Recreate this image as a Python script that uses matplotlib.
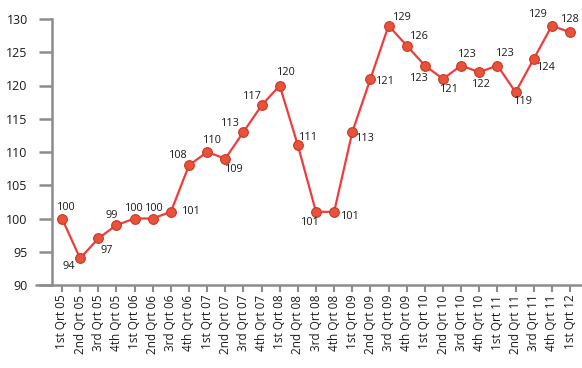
import matplotlib
matplotlib.use('Agg')
import matplotlib.pyplot as plt

# Quarterly values
quarters = ['1st Qrt 05', '2nd Qrt 05', '3rd Qrt 05', '4th Qrt 05',
            '1st Qrt 06', '2nd Qrt 06', '3rd Qrt 06', '4th Qrt 06',
            '1st Qrt 07', '2nd Qrt 07', '3rd Qrt 07', '4th Qrt 07',
            '1st Qrt 08', '2nd Qrt 08', '3rd Qrt 08', '4th Qrt 08',
            '1st Qrt 09', '2nd Qrt 09', '3rd Qrt 09', '4th Qrt 09',
            '1st Qrt 10', '2nd Qrt 10', '3rd Qrt 10', '4th Qrt 10',
            '1st Qrt 11', '2nd Qrt 11', '3rd Qrt 11', '4th Qrt 11',
            '1st Qrt 12']
values = [100, 94, 97, 99, 100, 100, 101, 108, 110, 109, 113, 117, 120, 111, 101,
          101, 113, 121, 129, 126, 123, 121, 123, 122, 123, 119, 124, 129, 128]
y_ticks = [90, 95, 100, 105, 110, 115, 120, 125, 130]

# label offsets in points (placement of each value label around its marker)
label_offsets = [(3, 8), (-8, -5.5), (6, -9), (-3.5, 7), (0, 7.5), (1.5, 7.5),
                 (15, 0.5), (-7.5, 6.7), (4, 8), (6.6, -8), (-9.6, 5.8),
                 (-6.8, 6.8), (4.9, 9.7), (7.7, 6), (-4.3, -8), (11.5, -3),
                 (9.2, -4.3), (10.5, -2.2), (9.7, 6.2), (8.9, 6.2), (-4.2, -9.6),
                 (5, -8), (4.6, 7.6), (1.6, -9.2), (5.5, 9), (5.8, -7),
                 (8.9, -6.5), (-9.6, 8.3), (0, 8.9)]

plt.rcParams['font.family'] = ['Open Sans', 'DejaVu Sans']

fig = plt.figure(figsize=(5.82, 3.68), dpi=100)
ax = fig.add_axes([52 / 582, 83 / 368, 530 / 582, 266 / 368])

x = list(range(len(values)))
ax.plot(x, values, color='#f03c3c', lw=1.6, zorder=2)
ax.plot(x, values, 'o', ms=7, mfc='#e8523a', mec='#c73a24', mew=0.8, zorder=3)

for i, v in enumerate(values):
    dx, dy = label_offsets[i]
    ax.annotate(str(v), (i, v), xytext=(dx, dy), textcoords='offset points',
                ha='center', va='center', fontsize=7.8, color='#1a1a1a')

ax.set_xlim(-0.55, len(values) - 1 + 0.66)
ax.set_ylim(90, 130)
ax.set_yticks(y_ticks)
ax.set_xticks(x)
ax.set_xticklabels(quarters, rotation=90)

for side in ['top', 'right']:
    ax.spines[side].set_visible(False)
for side in ['left', 'bottom']:
    ax.spines[side].set_color('#8c8c8c')
    ax.spines[side].set_linewidth(1.8)

ax.tick_params(axis='y', length=9.5, width=1.8, color='#8c8c8c', pad=8,
               labelsize=9, labelcolor='#1a1a1a')
ax.tick_params(axis='x', length=5, width=1.5, color='#8c8c8c', pad=2,
               labelsize=8.5, labelcolor='#1a1a1a')

# extend the x axis line a bit to the left of the y axis
ax.plot([-0.032, 0], [0, 0], transform=ax.transAxes, color='#8c8c8c', lw=1.8,
        clip_on=False, solid_capstyle='butt')

fig.savefig('out.png', dpi=100)
